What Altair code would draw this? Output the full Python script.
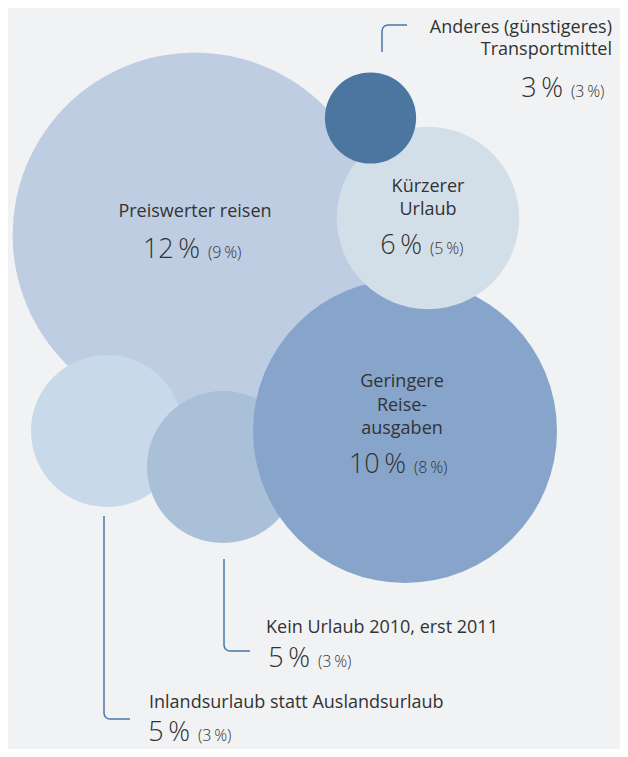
import math
import altair as alt
import pandas as pd

# ---------------- data ----------------
categories = [
    "Preiswerter reisen",
    "Inlandsurlaub statt Auslandsurlaub",
    "Kein Urlaub 2010, erst 2011",
    "Geringere Reiseausgaben",
    "Kürzerer Urlaub",
    "Anderes (günstigeres) Transportmittel",
]
share_2011 = [12, 5, 5, 10, 6, 3]
share_prev = [9, 3, 3, 8, 5, 3]
label_lines = [
    ["Preiswerter reisen"],
    ["Inlandsurlaub statt Auslandsurlaub"],
    ["Kein Urlaub 2010, erst 2011"],
    ["Geringere", "Reise-", "ausgaben"],
    ["Kürzerer", "Urlaub"],
    ["Anderes (günstigeres)", "Transportmittel"],
]

# ---------------- layout (page pixels) ----------------
center_x = [195, 107, 223, 405, 428, 370.5]
center_y = [235, 431, 467, 431, 218, 118]
colors = ["#bfcde3", "#c8d9ea", "#a9c0d8", "#87a5cb", "#d2dfe9", "#4a76a0"]
label_x = [195, 149, 266, 402, 428, 612]
label_y = [217, 708, 633, 387, 192, 33]
label_gap = [23, 23, 23, 23.5, 23, 22]
label_align = ["center", "left", "left", "center", "center", "right"]
number_end_x = [200, 190, 310, 406, 422, 563]
number_y = [258, 741, 667, 473, 254, 97]
# connectors: x of vertical, start y, corner y, end x of horizontal
conn_x = [382, 224, 104]
conn_y0 = [52, 559, 516]
conn_yc = [25, 651, 719]
conn_x1 = [407, 250, 130]
corner_r = 6

FONT = "Open Sans"
TEXT_COLOR = "#333333"
LINE_COLOR = "#4a76a8"
BG = "#f1f2f4"

xs = alt.Scale(domain=[8, 620], nice=False, zero=False)
ys = alt.Scale(domain=[8, 749], nice=False, zero=False, reverse=True)

bubbles = pd.DataFrame({
    "cat": categories,
    "value": share_2011,
    "prev": share_prev,
    "px": center_x,
    "py": center_y,
    "z": list(range(len(categories))),
})

circles = alt.Chart(bubbles).mark_circle(opacity=1, strokeWidth=0).encode(
    x=alt.X("px:Q", scale=xs, axis=None),
    y=alt.Y("py:Q", scale=ys, axis=None),
    size=alt.Size("value:Q", scale=alt.Scale(type="pow", exponent=2, domain=[0, 12],
                                              range=[0, (2 * 15.2 * 12) ** 2]), legend=None),
    color=alt.Color("cat:N", scale=alt.Scale(domain=categories, range=colors), legend=None),
    order=alt.Order("z:Q"),
)

# label rows
rows = []
for i, lines in enumerate(label_lines):
    for j, t in enumerate(lines):
        rows.append({"t": t, "px": label_x[i], "py": label_y[i] + j * label_gap[i], "al": label_align[i]})
labels_df = pd.DataFrame(rows)


def text_layer(df, align, size, weight="normal"):
    return alt.Chart(df).mark_text(
        align=align, baseline="alphabetic", font=FONT, fontSize=size, color=TEXT_COLOR,
        fontWeight=weight,
    ).encode(
        x=alt.X("px:Q", scale=xs, axis=None),
        y=alt.Y("py:Q", scale=ys, axis=None),
        text="t:N",
    )


label_layers = [text_layer(labels_df[labels_df.al == a], a, 18, 400) for a in ["center", "left", "right"]]

nums_df = pd.DataFrame({
    "t": [f"{v}\u2009%" for v in share_2011],
    "px": number_end_x,
    "py": number_y,
})
prev_df = pd.DataFrame({
    "t": [f"({v}\u2009%)" for v in share_prev],
    "px": [x + 8 for x in number_end_x],
    "py": number_y,
})
num_layer = text_layer(nums_df, "right", 27, 300)
prev_layer = text_layer(prev_df, "left", 16, 300)

# connectors
r = corner_r
vert = pd.DataFrame({
    "px": conn_x,
    "py": conn_y0,
    "py2": [yc + r if yc < y0 else yc - r for y0, yc in zip(conn_y0, conn_yc)],
})
horiz = pd.DataFrame({
    "px": [x + r for x in conn_x],
    "px2": conn_x1,
    "py": conn_yc,
})
arcs = pd.DataFrame({
    "px": [x + r for x in conn_x],
    "py": [yc + r if yc < y0 else yc - r for y0, yc in zip(conn_y0, conn_yc)],
    "t1": [1.5 * math.pi if yc < y0 else math.pi for y0, yc in zip(conn_y0, conn_yc)],
    "t2": [2 * math.pi if yc < y0 else 1.5 * math.pi for y0, yc in zip(conn_y0, conn_yc)],
    "ro": [r + 0.75] * 3,
    "ri": [r - 0.75] * 3,
})

vrule = alt.Chart(vert).mark_rule(color=LINE_COLOR, strokeWidth=1.5).encode(
    x=alt.X("px:Q", scale=xs, axis=None),
    y=alt.Y("py:Q", scale=ys, axis=None),
    y2="py2:Q",
)
hrule = alt.Chart(horiz).mark_rule(color=LINE_COLOR, strokeWidth=1.5).encode(
    x=alt.X("px:Q", scale=xs, axis=None),
    x2="px2:Q",
    y=alt.Y("py:Q", scale=ys, axis=None),
)
corner = alt.Chart(arcs).mark_arc(color=LINE_COLOR).encode(
    x=alt.X("px:Q", scale=xs, axis=None),
    y=alt.Y("py:Q", scale=ys, axis=None),
    theta=alt.Theta("t1:Q", scale=None, stack=None),
    theta2="t2:Q",
    radius=alt.Radius("ro:Q", scale=None),
    radius2="ri:Q",
)

chart = alt.layer(
    circles, vrule, hrule, corner, *label_layers, num_layer, prev_layer
).properties(
    width=612, height=741, padding=0, autosize=alt.AutoSizeParams(type="none"),
    background=BG,
).configure_view(stroke=None)

chart.save("out.html", embed_options={"renderer": "svg", "actions": False})
